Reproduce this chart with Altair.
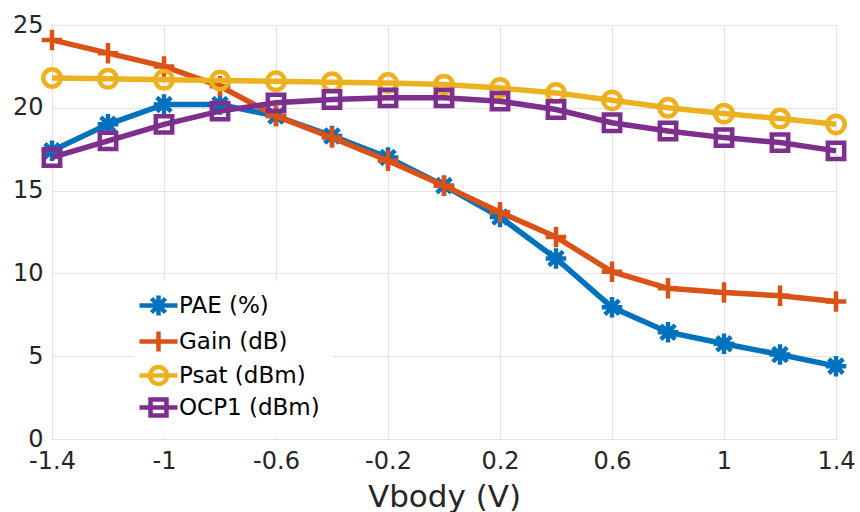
import altair as alt
import pandas as pd

vbody = [-1.4, -1.2, -1.0, -0.8, -0.6, -0.4, -0.2, 0.0, 0.2, 0.4, 0.6, 0.8, 1.0, 1.2, 1.4]
pae = [17.4, 19.0, 20.2, 20.2, 19.5, 18.3, 17.0, 15.3, 13.4, 10.9, 7.95, 6.45, 5.75, 5.1, 4.4]
gain = [24.1, 23.3, 22.5, 21.3, 19.5, 18.2, 16.8, 15.3, 13.7, 12.2, 10.1, 9.1, 8.85, 8.65, 8.3]
psat = [21.8, 21.75, 21.7, 21.65, 21.6, 21.55, 21.5, 21.4, 21.2, 20.9, 20.45, 20.0, 19.65, 19.35, 19.0]
ocp1 = [17.0, 18.0, 19.0, 19.8, 20.3, 20.5, 20.6, 20.6, 20.4, 19.9, 19.1, 18.6, 18.2, 17.9, 17.4]

series_names = ["PAE (%)", "Gain (dB)", "Psat (dBm)", "OCP1 (dBm)"]
series_values = [pae, gain, psat, ocp1]
colors = ["#0072BD", "#D95319", "#EDB120", "#7E2F8E"]

x_ticks = [-1.4, -1.0, -0.6, -0.2, 0.2, 0.6, 1.0, 1.4]
y_ticks = [0, 5, 10, 15, 20, 25]

# marker paths (unit coordinates)
asterisk = "M-1,0L1,0M0,-1L0,1M-0.7,-0.7L0.7,0.7M-0.7,0.7L0.7,-0.7"
plus = "M-1,0L1,0M0,-1L0,1"
circle = "M0.85,0A0.85,0.85,0,1,1,-0.85,0A0.85,0.85,0,1,1,0.85,0Z"
square = "M-0.8,-0.8L0.8,-0.8L0.8,0.8L-0.8,0.8Z"
markers = [asterisk, plus, circle, square]
seg = "M-1.9,0L1.9,0"
legend_markers = [seg + m for m in markers]

rows = []
for name, vals in zip(series_names, series_values):
    for xv, yv in zip(vbody, vals):
        rows.append({"vbody": xv, "value": yv, "series": name})
df = pd.DataFrame(rows)

legend = alt.Legend(
    title=None, orient="none", legendX=82, legendY=256,
    fillColor="white", padding=12, labelFontSize=23, labelFont="DejaVu Sans",
    labelColor="black", symbolSize=400, symbolStrokeWidth=4.5, symbolOpacity=1,
    labelOffset=8, rowPadding=-3, labelLimit=300,
)

color_scale = alt.Scale(domain=series_names, range=colors)
shape_scale = alt.Scale(domain=series_names, range=markers)
legend_shape_scale = alt.Scale(domain=series_names, range=legend_markers)

x_enc = alt.X(
    "vbody:Q",
    scale=alt.Scale(domain=[-1.4, 1.4], nice=False, zero=False),
    axis=alt.Axis(values=x_ticks, labelExpr="'' + round(datum.value*10)/10",
                  title="Vbody (V)", labelFlush=False),
)
y_enc = alt.Y(
    "value:Q",
    scale=alt.Scale(domain=[0, 25], nice=False),
    axis=alt.Axis(values=y_ticks, title=None, labelFlush=False),
)

legend_layer = alt.Chart(df).mark_point(
    filled=False, size=400, strokeWidth=4.5, opacity=0
).encode(
    x=x_enc, y=y_enc,
    color=alt.Color("series:N", scale=color_scale, legend=legend),
    shape=alt.Shape("series:N", scale=legend_shape_scale, legend=legend),
)

layers = [legend_layer]
for name in series_names:
    base = alt.Chart(df).transform_filter(alt.datum.series == name)
    line = base.mark_line(strokeWidth=5.5).encode(
        x=x_enc, y=y_enc,
        color=alt.Color("series:N", scale=color_scale, legend=None),
    )
    pts = base.mark_point(filled=False, size=420, strokeWidth=4.5, opacity=1).encode(
        x=x_enc, y=y_enc,
        color=alt.Color("series:N", scale=color_scale, legend=None),
        shape=alt.Shape("series:N", scale=shape_scale, legend=None),
    )
    layers += [line, pts]

chart = alt.layer(*layers).resolve_scale(
    color="independent", shape="independent"
).properties(
    width=784, height=414,
    autosize=alt.AutoSizeParams(type="none"),
    padding={"left": 52, "top": 25, "right": 24, "bottom": 73},
    background="white",
).configure_view(
    stroke="#555555", strokeWidth=1
).configure_axis(
    labelFont="DejaVu Sans", labelFontSize=24, labelColor="#262626",
    titleFont="DejaVu Sans", titleFontSize=31, titleFontWeight="normal", titleColor="#262626",
    grid=True, gridColor="#e3e3e3", gridWidth=1,
    domain=False, ticks=False,
).configure_axisX(
    labelPadding=10, titlePadding=9,
).configure_axisY(
    labelPadding=9,
)

chart.save("out.html", embed_options={"renderer": "svg", "actions": False})
